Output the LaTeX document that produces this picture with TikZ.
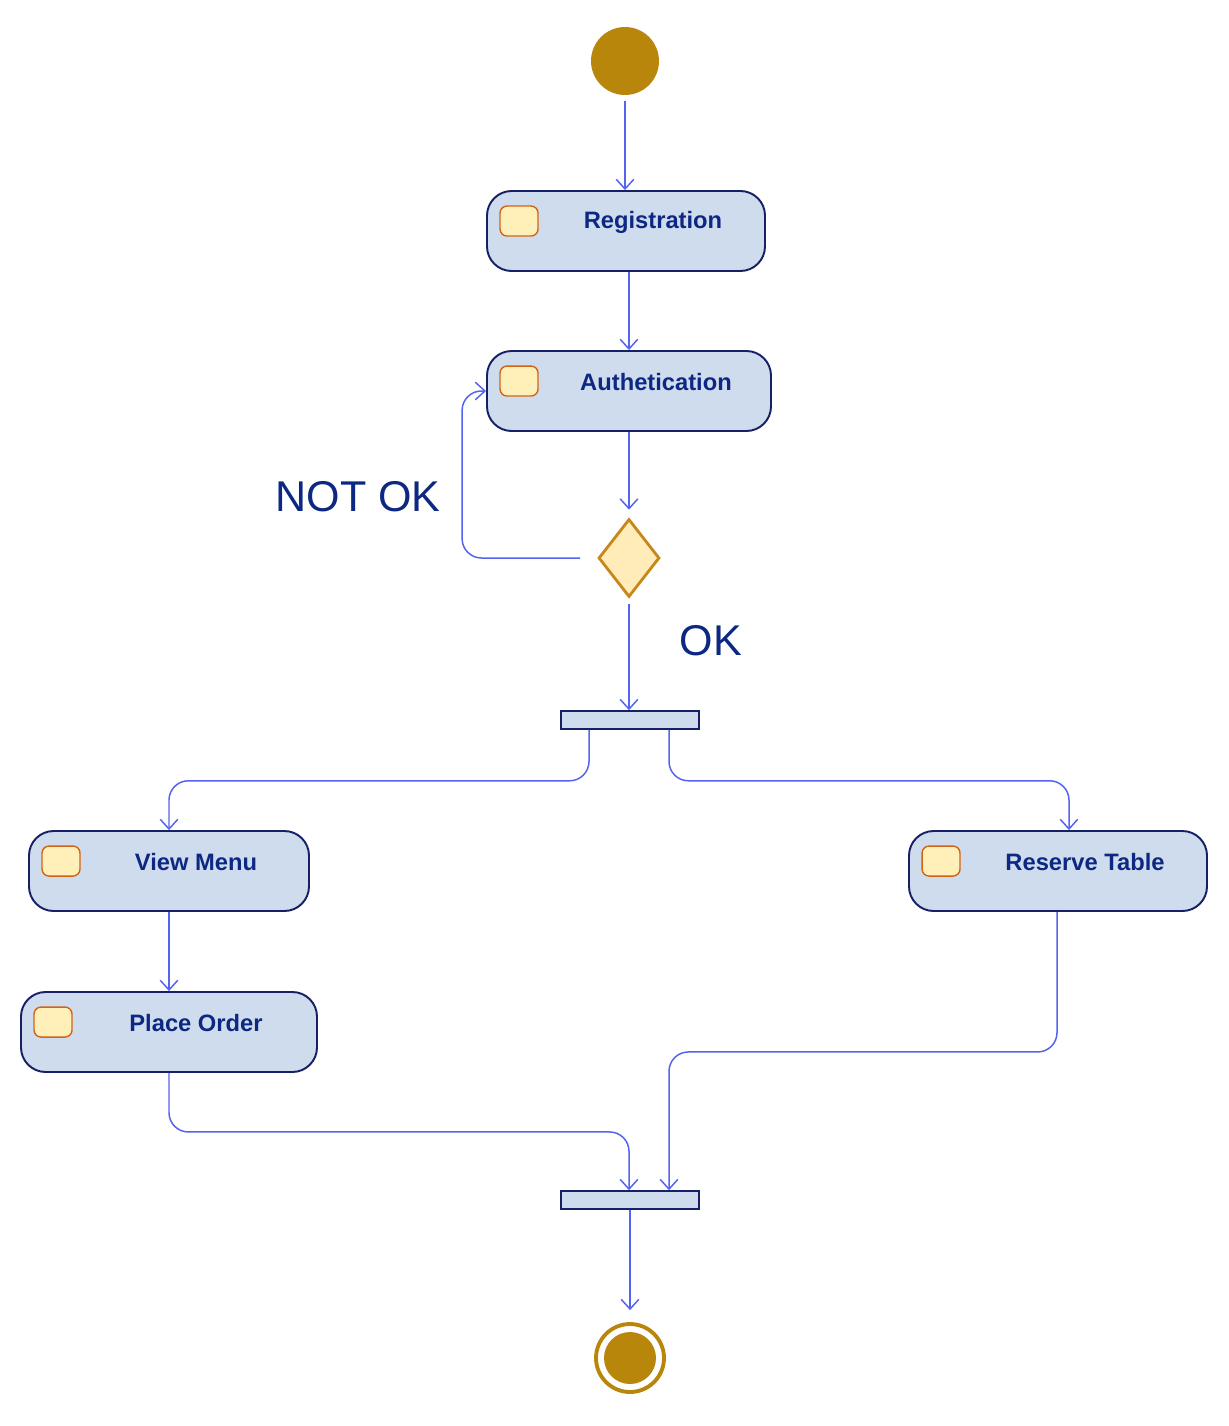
\documentclass[tikz,border=0pt]{standalone}
\usepackage{fontspec}
\setmainfont{Liberation Sans}
\usepackage{tikz}
\usetikzlibrary{shapes.geometric}
\usetikzlibrary{positioning}
\usetikzlibrary{calc}
\usetikzlibrary{arrows.meta}
\definecolor{actfill}{RGB}{207,220,238}
\definecolor{actdraw}{RGB}{22,32,100}
\definecolor{txtblue}{RGB}{12,40,130}
\definecolor{flowblue}{RGB}{85,100,240}
\definecolor{gold}{RGB}{184,134,11}
\definecolor{iconfill}{RGB}{255,240,185}
\definecolor{icondraw}{RGB}{210,100,20}
\definecolor{decfill}{RGB}{255,236,185}
\definecolor{decdraw}{RGB}{200,135,25}
\tikzset{act/.style={rectangle, rounded corners=14pt, draw=actdraw, fill=actfill, line width=1.1pt, minimum height=1.6cm, inner sep=0pt},
icon/.style={rectangle, rounded corners=4pt, draw=icondraw, fill=iconfill, line width=0.8pt, minimum width=0.76cm, minimum height=0.6cm, inner sep=0pt},
acttext/.style={text=txtblue, font=\fontsize{13.5}{16}\selectfont\bfseries},
flow/.style={draw=flowblue, line width=0.85pt, rounded corners=11pt, -{Straight Barb[length=5.5pt,width=10pt]}},
bar/.style={rectangle, draw=actdraw, fill=actfill, line width=0.9pt, minimum width=2.76cm, minimum height=0.36cm, inner sep=0pt},
guard/.style={text=txtblue, font=\fontsize{24.5}{28}\selectfont}}

\begin{document}
\begin{tikzpicture}[x=0.02cm,y=-0.02cm]
\useasboundingbox (0,0) rectangle (1228,1426);
\node (start) at (625,61) [circle, fill=gold, minimum size=1.36cm] {};
\foreach \nm / \x / \y / \w / \lbl in {reg/626/231/278/Registration, auth/629/391/284/Authetication, menu/169/871/280/View Menu, table/1058/871/298/Reserve Table, order/169/1032/296/Place Order} {
\node (\nm) at (\x,\y) [act, minimum width=\w*0.02cm] {};
\node (\nm-i) at ($(\nm.north west)+(33,31)$) [icon] {};
\node (\nm-t) at ($(\nm.center)+(27,-9)$) [acttext] {\lbl};
}
\node (dec) at (629,558) [diamond, draw=decdraw, fill=decfill, line width=1.6pt, minimum width=1.22cm, minimum height=1.56cm, inner sep=0pt] {};
\node (fork) at (630,720) [bar] {};
\node (join) at (630,1200) [bar] {};
\node (end) at (630,1358) [circle, draw=gold, line width=2.2pt, fill=white, minimum size=1.36cm] {};
\node (endin) at (end) [circle, fill=gold, minimum size=1.04cm] {};
\node (notok) at (358,497) [guard] {NOT OK};
\node (ok) at (711,641) [guard] {OK};
\draw[flow, shorten <=3pt] (start) -- (start |- reg.north);
\draw[flow] (reg.south -| auth) -- (auth);
\draw[flow, shorten >=4.5pt] (auth) -- (dec);
\draw[flow, shorten <=9.6pt] (dec.west) -- ++(-135,0) |- (auth.west);
\draw[flow, shorten <=3pt] (dec) -- (dec |- fork.north);
\draw[flow] ($(fork.south)+(-41,0)$) -- ++(0,51) -| (menu.north);
\draw[flow] ($(fork.south)+(39,0)$) -- ++(0,51) -| ($(table.north)+(11,0)$);
\draw[flow] (menu) -- (order);
\draw[flow] (order.south) -- ++(0,59) -| ($(join.north)+(-1,0)$);
\draw[flow] ($(table.south)+(-1,0)$) -- ++(0,140) -| ($(join.north)+(39,0)$);
\draw[flow, shorten >=6.8pt] (join) -- (end);
\end{tikzpicture}
\end{document}
